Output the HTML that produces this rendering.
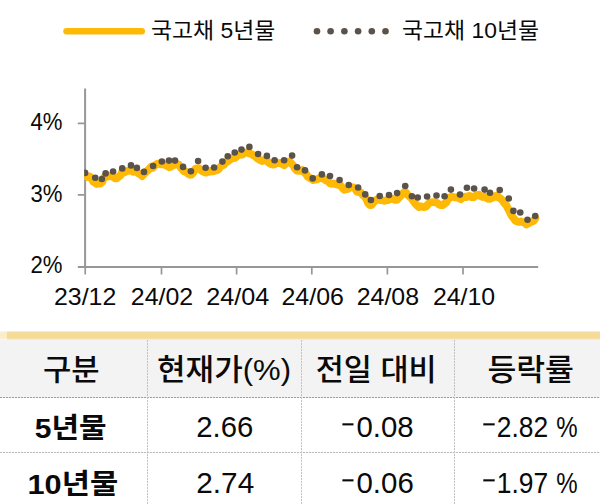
<!DOCTYPE html>
<html lang="ko">
<head>
<meta charset="utf-8">
<title>국고채 금리</title>
<style>
html,body{margin:0;padding:0;background:#fff;}
body{width:600px;height:504px;overflow:hidden;position:relative;font-family:"Liberation Sans",sans-serif;}
#page{position:absolute;left:0;top:0;width:600px;height:504px;overflow:hidden;background:#fff;}
#art{position:absolute;left:0;top:0;}
.bar{position:absolute;left:0;top:331px;width:600px;height:9px;background:linear-gradient(to bottom,#F6ECD0 0,#F6ECD0 1px,#F3DDA4 1px,#F3DDA4 2px,#F8DB93 2px,#F8DB93 7px,#F4DFAA 7px,#F4DFAA 8px,#F5ECD6 8px,#F5ECD6 9px);}
.bar i{position:absolute;left:0;top:0;width:7px;height:9px;background:rgba(255,255,255,.5);}
.hd{position:absolute;left:0;top:340px;width:600px;height:57px;background:#F3F3F3;}
.sr{position:absolute;color:transparent;font-size:10px;line-height:12px;white-space:nowrap;overflow:hidden;}
.sr table{border-collapse:collapse}
</style>
</head>
<body>
<div id="page">
<div class="bar"><i></i></div>
<div class="hd"></div>
<div class="sr" style="left:150px;top:24px">국고채 5년물</div>
<div class="sr" style="left:402px;top:24px">국고채 10년물</div>
<div class="sr" style="left:30px;top:116px">4%</div>
<div class="sr" style="left:30px;top:188px">3%</div>
<div class="sr" style="left:30px;top:260px">2%</div>
<div class="sr" style="left:55px;top:291px;word-spacing:40px">23/12 24/02 24/04 24/06 24/08 24/10</div>
<div class="sr" style="left:40px;top:360px">
<table>
<tr><th>구분</th><th>현재가(%)</th><th>전일 대비</th><th>등락률</th></tr>
<tr><td>5년물</td><td>2.66</td><td>-0.08</td><td>-2.82%</td></tr>
<tr><td>10년물</td><td>2.74</td><td>-0.06</td><td>-1.97%</td></tr>
</table>
</div>
<svg id="art" width="600" height="504" viewBox="0 0 600 504">
<defs><clipPath id="pc"><rect x="84.2" y="80" width="455.6" height="190"/></clipPath></defs>
<!-- table rules -->
<g fill="none" stroke-width="1">
<path d="M0 397.5H600" stroke="#9E9E9E" stroke-dasharray="2.2 0.8"/>
<path d="M0 452.5H600" stroke="#BDBDBD" stroke-dasharray="2.2 0.8"/>
<path d="M147.5 340V504M301.5 340V504M454.5 340V504" stroke="#C4C4C4" stroke-dasharray="2.2 0.8"/>
</g>
<!-- axes -->
<g fill="none" stroke="#979797" stroke-width="2">
<path d="M85.1 88.4V266.9M77.8 266.9H538.2"/>
<path d="M77.8 123.3H85.1M77.8 194.8H85.1" stroke-width="1.7"/>
<path d="M85.2 266.9V274.4M161.5 266.9V274.4M236.6 266.9V274.4M311.8 266.9V274.4M387.4 266.9V274.4M463 266.9V274.4" stroke-width="1.7"/>
</g>
<!-- series: 5y -->
<path d="M84 176.15 L85.82 175.94 L87.64 177.03 L89.46 176.43 L91.28 177.87 L93.1 181.6 L94.92 182.65 L96.74 183.96 L98.56 183.26 L100.38 183.57 L102.2 181.95 L104.02 177.36 L105.84 175.37 L107.66 176.69 L109.48 175.94 L111.3 176.06 L113.12 177.11 L114.94 178.4 L116.76 178.36 L118.58 176.7 L120.4 175.48 L122.22 171.76 L124.04 172.61 L125.86 171.65 L127.68 170.88 L129.5 170.43 L131.32 170.59 L133.14 171.94 L134.96 171.29 L136.78 172.01 L138.6 173.53 L140.42 174.47 L142.24 176.04 L144.06 173.97 L145.88 172.04 L147.7 170.48 L149.52 168.64 L151.34 166.5 L153.16 167.63 L154.98 165.28 L156.8 164.1 L158.62 163.59 L160.44 164.28 L162.26 164.37 L164.08 164.3 L165.9 165.46 L167.72 166.3 L169.54 167.32 L171.36 166.45 L173.18 164.72 L175 164.95 L176.82 163.95 L178.64 164.43 L180.46 167.16 L182.28 169.38 L184.1 171.49 L185.92 171.55 L187.74 173.38 L189.56 174.76 L191.38 174.7 L193.2 172.69 L195.02 169.22 L196.84 168.29 L198.66 168.05 L200.48 169.89 L202.3 171.24 L204.12 172.09 L205.94 172.66 L207.76 171.8 L209.58 171.83 L211.4 170.59 L213.22 171.38 L215.04 170.83 L216.86 170.33 L218.68 168.99 L220.5 166.67 L222.32 165.32 L224.14 164.56 L225.96 162.18 L227.78 161.4 L229.6 160.01 L231.42 158.79 L233.24 157.61 L235.06 157.98 L236.88 156.16 L238.7 155.1 L240.52 154.36 L242.34 154.61 L244.16 152.82 L245.98 152.56 L247.8 152.44 L249.62 153.54 L251.44 154.01 L253.26 155.21 L255.08 156.15 L256.9 158.1 L258.72 159.24 L260.54 160.35 L262.36 160.96 L264.18 159.85 L266 160.46 L267.82 161.75 L269.64 163.41 L271.46 164.24 L273.28 164.62 L275.1 163.98 L276.92 162.86 L278.74 163.03 L280.56 163.02 L282.38 164.02 L284.2 165.28 L286.02 163.54 L287.84 161.59 L289.66 161.59 L291.48 163.57 L293.3 165.41 L295.12 168.81 L296.94 170.6 L298.76 170.91 L300.58 170.85 L302.4 170.02 L304.22 172.35 L306.04 173.98 L307.86 176.78 L309.68 177.74 L311.5 178.97 L313.32 180.05 L315.14 179.52 L316.96 179.36 L318.78 178.42 L320.6 178.01 L322.42 178.31 L324.24 179.15 L326.06 180.53 L327.88 180.88 L329.7 183.24 L331.52 183.85 L333.34 183.47 L335.16 183.89 L336.98 184.54 L338.8 185.12 L340.62 185.5 L342.44 187.89 L344.26 189.72 L346.08 189.27 L347.9 188.86 L349.72 187.77 L351.54 187.26 L353.36 187.41 L355.18 188.77 L357 191.71 L358.82 192.13 L360.64 192.33 L362.46 194.78 L364.28 196.31 L366.1 198.51 L367.92 202.86 L369.74 205 L371.56 204.98 L373.38 202.45 L375.2 200.53 L377.02 199.44 L378.84 199.39 L380.66 200.18 L382.48 200.28 L384.3 200.84 L386.12 200.24 L387.94 200.2 L389.76 199.12 L391.58 198.51 L393.4 199.38 L395.22 199.95 L397.04 199.75 L398.86 197.78 L400.68 195.9 L402.5 193.87 L404.32 192.2 L406.14 192.81 L407.96 195.3 L409.78 196.73 L411.6 198.21 L413.42 201.08 L415.24 203.62 L417.06 205.45 L418.88 207.14 L420.7 206.3 L422.52 206.91 L424.34 207.15 L426.16 206.53 L427.98 204.37 L429.8 202.67 L431.62 202.33 L433.44 202.19 L435.26 202.16 L437.08 202.99 L438.9 204.35 L440.72 205.19 L442.54 205.16 L444.36 203.69 L446.18 202.44 L448 199.31 L449.82 197.58 L451.64 196.51 L453.46 196.97 L455.28 197.36 L457.1 197.6 L458.92 198.02 L460.74 199.16 L462.56 197.3 L464.38 196.75 L466.2 197.1 L468.02 196.05 L469.84 195.95 L471.66 197.15 L473.48 197.26 L475.3 195.9 L477.12 195.13 L478.94 194.71 L480.76 196.2 L482.58 196.97 L484.4 196.21 L486.22 197.67 L488.04 198.85 L489.86 198.97 L491.68 197.75 L493.5 197.33 L495.32 196.12 L497.14 195.79 L498.96 197.71 L500.78 198.68 L502.6 200.51 L504.42 203.33 L506.24 205.19 L508.06 208.64 L509.88 212.44 L511.7 215.8 L513.52 218.18 L515.34 220.5 L517.16 221.47 L518.98 221.94 L520.8 221.33 L522.62 222.05 L524.44 222.33 L526.26 224.5 L528.08 223.58 L529.9 222.54 L531.72 221.76 L533.54 220.92 L535.36 218.23" fill="none" stroke="#FDB906" stroke-width="7.8" stroke-linejoin="round" stroke-linecap="round" clip-path="url(#pc)"/>
<!-- series: 10y -->
<g fill="#5B524A" clip-path="url(#pc)"><circle cx="85.1" cy="172.9" r="3.3"/><circle cx="95.25" cy="177.75" r="3.3"/><circle cx="101.9" cy="179" r="3.3"/><circle cx="105.6" cy="173.4" r="3.3"/><circle cx="113.1" cy="171.5" r="3.3"/><circle cx="122.25" cy="168.4" r="3.3"/><circle cx="131" cy="165.4" r="3.3"/><circle cx="136.9" cy="167.9" r="3.3"/><circle cx="144" cy="171.9" r="3.3"/><circle cx="153.1" cy="166" r="3.3"/><circle cx="161.9" cy="161.5" r="3.3"/><circle cx="169" cy="160.6" r="3.3"/><circle cx="175" cy="160.6" r="3.3"/><circle cx="183.1" cy="166.9" r="3.3"/><circle cx="190.9" cy="171.25" r="3.3"/><circle cx="198.1" cy="161" r="3.3"/><circle cx="205.6" cy="167.75" r="3.3"/><circle cx="214.1" cy="167.5" r="3.3"/><circle cx="222.4" cy="161.6" r="3.3"/><circle cx="227.75" cy="156.25" r="3.3"/><circle cx="234.75" cy="152.5" r="3.3"/><circle cx="241.5" cy="149.6" r="3.3"/><circle cx="249.4" cy="146.9" r="3.3"/><circle cx="258.1" cy="154" r="3.3"/><circle cx="266.9" cy="155.9" r="3.3"/><circle cx="274.6" cy="160.25" r="3.3"/><circle cx="284.1" cy="160.25" r="3.3"/><circle cx="292.1" cy="155.6" r="3.3"/><circle cx="297.1" cy="167.25" r="3.3"/><circle cx="305" cy="170.4" r="3.3"/><circle cx="312.75" cy="178.4" r="3.3"/><circle cx="321.9" cy="174.4" r="3.3"/><circle cx="330" cy="176" r="3.3"/><circle cx="339.6" cy="180" r="3.3"/><circle cx="348.75" cy="185" r="3.3"/><circle cx="358.1" cy="187.5" r="3.3"/><circle cx="365.2" cy="194.4" r="3.3"/><circle cx="370.9" cy="200" r="3.3"/><circle cx="379.75" cy="196" r="3.3"/><circle cx="389" cy="195" r="3.3"/><circle cx="397.1" cy="193.1" r="3.3"/><circle cx="405.25" cy="186" r="3.3"/><circle cx="411.9" cy="196.25" r="3.3"/><circle cx="417.75" cy="197.5" r="3.3"/><circle cx="427.1" cy="196.5" r="3.3"/><circle cx="436.5" cy="195.5" r="3.3"/><circle cx="444.6" cy="196.25" r="3.3"/><circle cx="450.9" cy="189.6" r="3.3"/><circle cx="460" cy="194.6" r="3.3"/><circle cx="466.9" cy="187.75" r="3.3"/><circle cx="474.1" cy="188.5" r="3.3"/><circle cx="484.6" cy="189.6" r="3.3"/><circle cx="490" cy="192.75" r="3.3"/><circle cx="499.75" cy="190" r="3.3"/><circle cx="508.75" cy="198.5" r="3.3"/><circle cx="513.4" cy="210.9" r="3.3"/><circle cx="520.25" cy="212.5" r="3.3"/><circle cx="527.5" cy="219.75" r="3.3"/><circle cx="535.25" cy="216" r="3.3"/></g>
<!-- legend -->
<path d="M66.6 31.3H141.7" fill="none" stroke="#FDB906" stroke-width="6.6" stroke-linecap="round"/>
<g fill="#5B524A"><circle cx="317" cy="31.2" r="3.3"/><circle cx="330.6" cy="31.2" r="3.3"/><circle cx="344.4" cy="31.2" r="3.3"/><circle cx="358.1" cy="31.2" r="3.3"/><circle cx="371.8" cy="31.2" r="3.3"/><circle cx="385.5" cy="31.2" r="3.3"/></g>
<!-- minus signs -->
<g fill="#0a0a0a">
<rect x="342.4" y="423.3" width="11.1" height="2.1"/><rect x="342.4" y="479.3" width="11.1" height="2.1"/>
<rect x="483.3" y="423.3" width="11.4" height="2.1"/><rect x="483.3" y="479.3" width="11.4" height="2.1"/>
</g>
<!-- text -->
<g fill="#0a0a0a" font-family='"Liberation Sans", "Noto Sans CJK KR", sans-serif'>
<text x="151" y="37.7" font-size="22" textLength="124.4" lengthAdjust="spacingAndGlyphs">국고채 5년물</text>
<text x="402" y="37.7" font-size="22" textLength="137" lengthAdjust="spacingAndGlyphs">국고채 10년물</text>
<text x="30.5" y="130" font-size="23" textLength="32" lengthAdjust="spacingAndGlyphs">4%</text>
<text x="30.5" y="201.9" font-size="23" textLength="32" lengthAdjust="spacingAndGlyphs">3%</text>
<text x="30.5" y="273.3" font-size="23" textLength="32" lengthAdjust="spacingAndGlyphs">2%</text>
<text x="54" y="304.8" font-size="24" textLength="62.3" lengthAdjust="spacingAndGlyphs">23/12</text>
<text x="130.8" y="304.8" font-size="24" textLength="62.3" lengthAdjust="spacingAndGlyphs">24/02</text>
<text x="206.3" y="304.8" font-size="24" textLength="63" lengthAdjust="spacingAndGlyphs">24/04</text>
<text x="281.5" y="304.8" font-size="24" textLength="62.4" lengthAdjust="spacingAndGlyphs">24/06</text>
<text x="356.7" y="304.8" font-size="24" textLength="62.3" lengthAdjust="spacingAndGlyphs">24/08</text>
<text x="432.9" y="304.8" font-size="24" textLength="62.3" lengthAdjust="spacingAndGlyphs">24/10</text>
<text x="43" y="380" font-size="30" font-weight="500" textLength="56.6" lengthAdjust="spacingAndGlyphs">구분</text>
<text x="157" y="380" font-size="30" font-weight="500" textLength="134" lengthAdjust="spacingAndGlyphs">현재가(%)</text>
<text x="315.7" y="380" font-size="30" font-weight="500" textLength="121" lengthAdjust="spacingAndGlyphs">전일 대비</text>
<text x="487.4" y="380" font-size="30" font-weight="500" textLength="86.5" lengthAdjust="spacingAndGlyphs">등락률</text>
<text x="34.8" y="438" font-size="28" font-weight="bold" textLength="71.8" lengthAdjust="spacingAndGlyphs">5년물</text>
<text x="27.5" y="493.8" font-size="28" font-weight="bold" textLength="90.7" lengthAdjust="spacingAndGlyphs">10년물</text>
<text x="196.3" y="437.2" font-size="30" textLength="57" lengthAdjust="spacingAndGlyphs">2.66</text>
<text x="196.3" y="493.2" font-size="30" textLength="57.9" lengthAdjust="spacingAndGlyphs">2.74</text>
<text x="356.5" y="437.2" font-size="30" textLength="57.2" lengthAdjust="spacingAndGlyphs">0.08</text>
<text x="356.5" y="493.2" font-size="30" textLength="57.3" lengthAdjust="spacingAndGlyphs">0.06</text>
<text x="496.8" y="437.3" font-size="30" textLength="51.3" lengthAdjust="spacingAndGlyphs">2.82</text>
<text x="496.8" y="493.3" font-size="30" textLength="51.4" lengthAdjust="spacingAndGlyphs">1.97</text>
<text x="556.3" y="437.3" font-size="30" textLength="21.4" lengthAdjust="spacingAndGlyphs">%</text>
<text x="556.3" y="493.3" font-size="30" textLength="21.4" lengthAdjust="spacingAndGlyphs">%</text>
</g>
</svg>
</div>
</body>
</html>
